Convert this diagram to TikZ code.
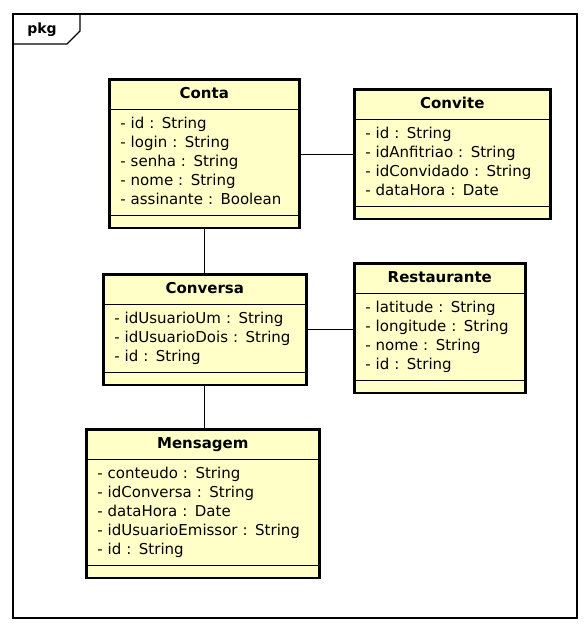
\documentclass[tikz,border=0pt]{standalone}
\usepackage{fontspec}
\setmainfont{DejaVu Sans}
\usetikzlibrary{shapes.multipart}
\definecolor{classfill}{RGB}{255,255,200}

\begin{document}
\begin{tikzpicture}
[x=1pt, y=-1pt,
classnode/.style={rectangle split, rectangle split parts=3, rectangle split draw splits=false, draw=black, line width=2.6pt, fill=classfill, inner xsep=11pt, inner ysep=4.3pt, anchor=north west, align=left, font=\fontsize{15}{19}\selectfont},
divider/.style={draw=black, line width=0.9pt},
assoc/.style={draw=black, line width=0.9pt},
frame/.style={draw=black, line width=1.3pt}]
\useasboundingbox (0,0) rectangle (585,630);

\draw[frame] (13,14) rectangle (577,618);
\draw[frame] (13,44) -- (67,44) -- (80,31) -- (80,14);
\node[font=\bfseries\fontsize{14}{16}\selectfont] (pkg) at (42,30) {pkg};

\node[classnode, text width=168pt] (conta) at (108,78)
{\makebox[\hsize]{\strut\textbf{Conta}}
\nodepart{two}\strut- id : String\\ \strut- login : String\\ \strut- senha : String\\ \strut- nome : String\\ \strut- assinante : Boolean
\nodepart{three}\rule{0pt}{1pt}};
\node[classnode, text width=174pt] (convite) at (353,88)
{\makebox[\hsize]{\strut\textbf{Convite}}
\nodepart{two}\strut- id : String\\ \strut- idAnfitriao : String\\ \strut- idConvidado : String\\ \strut- dataHora : Date
\nodepart{three}\rule{0pt}{1pt}};
\node[classnode, text width=181pt] (conversa) at (102,273)
{\makebox[\hsize]{\strut\textbf{Conversa}}
\nodepart{two}\strut- idUsuarioUm : String\\ \strut- idUsuarioDois : String\\ \strut- id : String
\nodepart{three}\rule{0pt}{1pt}};
\node[classnode, text width=149pt] (restaurante) at (353,262)
{\makebox[\hsize]{\strut\textbf{Restaurante}}
\nodepart{two}\strut- latitude : String\\ \strut- longitude : String\\ \strut- nome : String\\ \strut- id : String
\nodepart{three}\rule{0pt}{1pt}};
\node[classnode, text width=211pt] (mensagem) at (85,428)
{\makebox[\hsize]{\strut\textbf{Mensagem}}
\nodepart{two}\strut- conteudo : String\\ \strut- idConversa : String\\ \strut- dataHora : Date\\ \strut- idUsuarioEmissor : String\\ \strut- id : String
\nodepart{three}\rule{0pt}{1pt}};

\draw[divider] (conta.text split west) -- (conta.text split east);
\draw[divider] (conta.two split west) -- (conta.two split east);
\draw[divider] (convite.text split west) -- (convite.text split east);
\draw[divider] (convite.two split west) -- (convite.two split east);
\draw[divider] (conversa.text split west) -- (conversa.text split east);
\draw[divider] (conversa.two split west) -- (conversa.two split east);
\draw[divider] (restaurante.text split west) -- (restaurante.text split east);
\draw[divider] (restaurante.two split west) -- (restaurante.two split east);
\draw[divider] (mensagem.text split west) -- (mensagem.text split east);
\draw[divider] (mensagem.two split west) -- (mensagem.two split east);

\draw[assoc] (convite.west -| conta.east) -- (convite.west);
\draw[assoc] (conta.south) -- (conta.south |- conversa.north);
\draw[assoc] (conversa.east) -- (conversa.east -| restaurante.west);
\draw[assoc] (conversa.south) -- (conversa.south |- mensagem.north);

\end{tikzpicture}
\end{document}
